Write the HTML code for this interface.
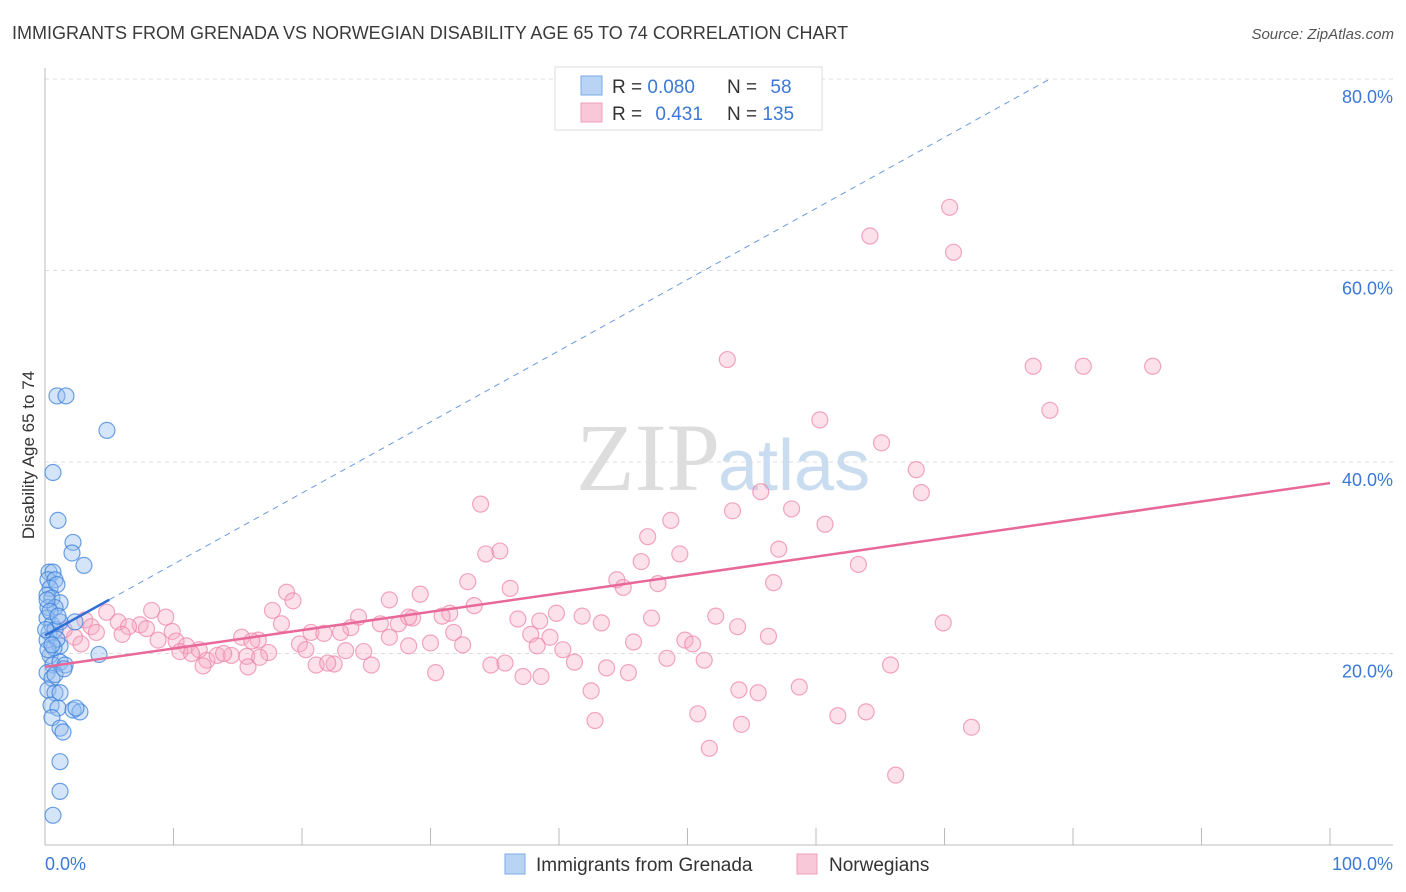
<!DOCTYPE html>
<html><head><meta charset="utf-8"><style>
body{margin:0;background:#fff;font-family:"Liberation Sans",sans-serif;}
svg{display:block}
</style></head><body>
<svg id="chart" width="1406" height="892" xmlns="http://www.w3.org/2000/svg">
<text x="12" y="39" font-size="18" fill="#3a3a3a">IMMIGRANTS FROM GRENADA VS NORWEGIAN DISABILITY AGE 65 TO 74 CORRELATION CHART</text>
<text x="1394" y="39" font-size="15" fill="#555" text-anchor="end" font-style="italic">Source: ZipAtlas.com</text>
<g id="grid"></g>
<g id="ticks"></g>
<text x="720" y="490" font-size="96" fill="#ddd" text-anchor="end" font-family="Liberation Serif,serif">ZIP</text>
<text x="718" y="490" font-size="72" fill="#c9dcf0">atlas</text>
<line x1="45" y1="68" x2="45" y2="845" stroke="#bbb"/>
<line x1="45" y1="845" x2="1393" y2="845" stroke="#bbb"/>
<g id="xticks"></g>
<g id="pink"></g>
<g id="blue"></g>
<g id="trends"></g>
<text x="45" y="870" font-size="18" fill="#3b78d8">0.0%</text>
<text x="1393" y="870" font-size="18" fill="#3b78d8" text-anchor="end">100.0%</text>
<text x="34" y="455" font-size="17" fill="#333" text-anchor="middle" transform="rotate(-90 34 455)">Disability Age 65 to 74</text>
<g>
<rect x="555" y="67" width="267" height="63" fill="#fff" stroke="#ddd"/>
<rect x="581" y="76" width="21" height="19" fill="#b9d3f5" stroke="#7aa8e8"/>
<rect x="581" y="103" width="21" height="19" fill="#f9c8d8" stroke="#f0a0b8"/>
<text x="612" y="93" font-size="19" fill="#333">R = <tspan fill="#3b78d8">0.080</tspan></text>
<text x="727" y="93" font-size="19" fill="#333">N = <tspan fill="#3b78d8" dx="8">58</tspan></text>
<text x="612" y="120" font-size="19" fill="#333">R = <tspan fill="#3b78d8" dx="8">0.431</tspan></text>
<text x="727" y="120" font-size="19" fill="#333">N = <tspan fill="#3b78d8">135</tspan></text>
</g>
<g>
<rect x="505" y="854" width="20" height="20" fill="#b9d3f5" stroke="#7aa8e8"/>
<text x="536" y="871" font-size="19" fill="#333">Immigrants from Grenada</text>
<rect x="797" y="854" width="20" height="20" fill="#f9c8d8" stroke="#f0a0b8"/>
<text x="829" y="871" font-size="19" fill="#333">Norwegians</text>
</g>
</svg>
<script>
const yTicks=[20,40,60,80];
const yTickLabels=["20.0%","40.0%","60.0%","80.0%"];
const blueX=[0.93,1.63,4.82,0.62,1.01,2.18,2.10,3.03,0.31,0.62,0.23,0.78,0.39,0.93,0.16,0.54,1.17,0.23,0.78,0.16,0.54,0.31,0.78,0.16,1.17,4.20,0.39,0.62,1.17,1.56,0.16,0.54,0.78,0.23,0.78,1.17,0.47,1.01,2.18,2.72,2.41,0.54,1.17,1.40,1.17,1.17,0.62,0.16,0.39,0.05,1.17,0.70,1.48,2.33,0.93,0.23,0.54,1.01];
const blueY=[46.9,46.9,43.3,38.9,33.9,31.6,30.5,29.2,28.5,28.5,27.7,27.7,26.8,27.2,26.1,25.8,25.3,24.8,24.8,23.7,23.0,22.2,22.5,21.4,23.3,19.9,19.8,18.8,19.1,18.8,18.0,17.4,17.8,16.2,15.9,15.9,14.6,14.3,14.1,13.9,14.3,13.3,12.2,11.8,8.7,5.6,3.1,25.6,24.4,22.5,20.8,20.6,18.4,23.3,21.5,20.4,20.9,23.9];
const pinkX=[70.4,64.2,70.7,53.1,76.9,80.8,86.2,78.2,60.3,65.1,67.8,68.2,55.7,33.9,53.5,58.1,48.7,60.7,46.9,34.3,35.4,49.4,57.1,46.4,63.3,56.7,44.5,47.7,45.0,32.9,36.2,18.8,19.3,29.2,26.8,4.8,8.3,9.4,17.7,31.5,33.4,30.9,28.6,5.7,7.4,6.5,3.1,3.6,4.0,2.3,1.5,8.8,9.9,15.3,16.6,18.4,24.4,26.1,27.5,28.3,23.8,20.7,21.7,23.0,36.8,38.5,39.8,41.8,43.3,47.2,52.2,53.9,10.2,11.0,12.0,12.6,13.4,14.5,15.7,16.1,17.4,19.8,20.3,21.1,22.5,23.4,24.8,25.4,26.8,28.3,30.0,31.8,32.5,34.7,35.8,37.2,37.8,39.3,38.3,40.3,41.2,38.6,42.5,43.7,45.4,45.8,48.4,49.8,50.4,51.3,56.3,58.7,55.5,54.0,50.8,54.2,51.7,42.8,61.7,63.9,65.8,69.9,72.1,66.2,30.4,15.8,10.5,12.3,16.7,11.4,13.9,6.0,2.8,7.9,22.0];
const pinkY=[66.6,63.6,61.9,50.7,50.0,50.0,50.0,45.4,44.4,42.0,39.2,36.8,36.9,35.6,34.9,35.1,33.9,33.5,32.2,30.4,30.7,30.4,30.9,29.6,29.3,27.4,27.7,27.3,26.9,27.5,26.8,26.4,25.5,26.2,25.6,24.3,24.5,23.8,24.5,24.2,25.0,23.9,23.7,23.3,23.0,22.8,23.5,22.8,22.2,21.7,22.5,21.4,22.3,21.7,21.4,23.1,23.8,23.1,23.1,23.8,22.7,22.2,22.1,22.2,23.6,23.4,24.2,23.9,23.2,23.7,23.9,22.8,21.3,20.8,20.4,19.3,19.8,19.8,19.7,21.3,20.1,21.0,20.4,18.8,18.9,20.3,20.2,18.8,21.7,20.8,21.1,22.2,20.9,18.8,19.0,17.6,22.0,21.7,20.8,20.4,19.1,17.6,16.1,18.5,18.0,21.2,19.5,21.4,21.0,19.3,21.8,16.5,15.9,16.2,13.7,12.6,10.1,13.0,13.5,13.9,18.8,23.2,12.3,7.3,18.0,18.6,20.2,18.7,19.6,20.0,20.0,22.0,21.0,22.6,19.0];
const blueTrend=[21.9,0.743];
const pinkTrend=[18.6,0.192];
const X0=45,X1=1330,Y0=845,YPER=9.575;
const sx=v=>X0+(X1-X0)*v/100;
const sy=v=>Y0-v*YPER;
const NS="http://www.w3.org/2000/svg";
function mk(tag,attrs,parent){const e=document.createElementNS(NS,tag);for(const k in attrs)e.setAttribute(k,attrs[k]);parent.appendChild(e);return e;}
const grid=document.getElementById('grid'),ticks=document.getElementById('ticks');
yTicks.forEach((t,i)=>{
 const l=mk('line',{x1:45,x2:1393,y1:sy(t),y2:sy(t),stroke:'#ddd','stroke-dasharray':'4,4'},grid);
 
 
 const tx=mk('text',{x:1393,y:sy(t)+24,'font-size':18,fill:'#3b78d8','text-anchor':'end'},ticks);
 tx.textContent=yTickLabels[i];
 
 
});
const xt=document.getElementById('xticks');
for(let i=0;i<=10;i++){
 const l=mk('line',{x1:sx(i*10),x2:sx(i*10),y1:828,y2:845,stroke:'#bbb'},xt);
 
 
}
const pg=document.getElementById('pink');
pinkX.forEach((x,i)=>{
 const c=mk('circle',{cx:sx(x),cy:sy(pinkY[i]),r:8,fill:'rgba(246,170,195,0.35)',stroke:'rgba(236,130,165,0.7)','stroke-width':1.2},pg);
 
 
});
const bg=document.getElementById('blue');
blueX.forEach((x,i)=>{
 const c=mk('circle',{cx:sx(x),cy:sy(blueY[i]),r:8,fill:'rgba(150,190,240,0.4)',stroke:'rgba(60,130,220,0.75)','stroke-width':1.2},bg);
 
 
});
const tg=document.getElementById('trends');
const xEnd=(80-blueTrend[0])/blueTrend[1];
const bd=mk('line',{x1:sx(5),y1:sy(blueTrend[0]+blueTrend[1]*5),x2:sx(xEnd),y2:sy(80),stroke:'#6a9ae0','stroke-width':1,'stroke-dasharray':'6,5'},tg);


const bs=mk('line',{x1:sx(0),y1:sy(blueTrend[0]),x2:sx(5),y2:sy(blueTrend[0]+blueTrend[1]*5),stroke:'#2f6fd6','stroke-width':2.5},tg);


const pl=mk('line',{x1:sx(0),y1:sy(pinkTrend[0]),x2:sx(100),y2:sy(pinkTrend[0]+pinkTrend[1]*100),stroke:'#e8689a','stroke-width':2.5},tg);


</script>
</body></html>
